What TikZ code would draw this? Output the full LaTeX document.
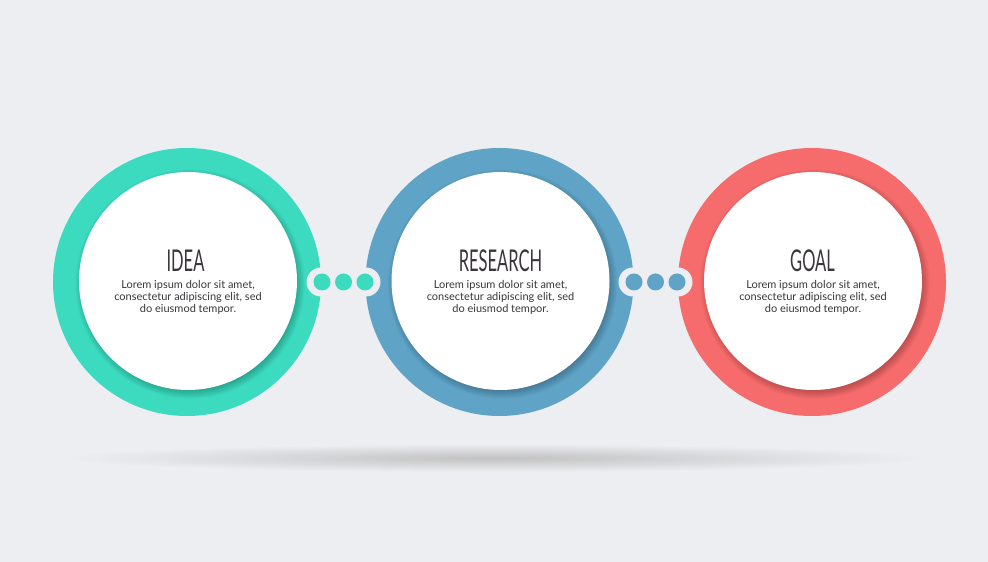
\documentclass[tikz,border=0pt]{standalone}
\usepackage{fontspec}
\setmainfont{Lato}
\usetikzlibrary{shapes.misc}
\definecolor{bg}{RGB}{237,238,242}
\definecolor{ideacol}{RGB}{60,219,192}
\definecolor{rescol}{RGB}{95,163,199}
\definecolor{goalcol}{RGB}{246,107,107}
\definecolor{ink}{RGB}{58,54,60}
\tikzset{
  ring/.style={circle, minimum size=268pt, inner sep=0pt, draw=none},
  disc/.style={circle, minimum size=218pt, inner sep=0pt, fill=white},
  softshade/.style={black, fill opacity=0.022},
  pill/.style={rounded rectangle, fill=bg, minimum width=74pt, minimum height=29pt, inner sep=0pt},
  dot/.style={circle, minimum size=17pt, inner sep=0pt},
  heading/.style={font=\fontsize{30}{30}\selectfont, text=ink, xscale=0.55, inner sep=0pt},
  body/.style={font=\fontsize{11}{12}\selectfont, text=ink, align=center, inner sep=0pt}
}
\begin{document}
\begin{tikzpicture}[x=1pt,y=1pt]
  % background
  \fill[bg] (0,0) rectangle (988,562);
  \useasboundingbox (0,0) rectangle (988,562);
  % floor shadow
  \begin{scope}
    \clip (494,104) ellipse (430 and 14);
    \shade[inner color=black!24, outer color=bg] (494,104) ellipse (430 and 14);
  \end{scope}
  % centres of the three steps
  \coordinate (o1) at (188,281);
  \coordinate (o2) at (500.5,281);
  \coordinate (o3) at (813,281);
  % rings
  \node[ring, fill=ideacol] (r1) at (187,280) {};
  \node[ring, fill=rescol]  (r2) at (499.5,280) {};
  \node[ring, fill=goalcol] (r3) at (812,280) {};
  % soft shadows cast by the white discs onto the rings
  \foreach \o in {o1,o2,o3}{
    \foreach \k in {0,...,13}{
      \fill[softshade] ([shift={(2,-3)}]\o) circle ({103+\k*0.9});
    }
  }
  % white discs
  \node[disc] (c1) at (o1) {};
  \node[disc] (c2) at (o2) {};
  \node[disc] (c3) at (o3) {};
  % texts
  \node[heading] (t1) at (185.5,301) {IDEA};
  \node[heading] (t2) at (500.5,301) {RESEARCH};
  \node[heading] (t3) at (812.5,301) {GOAL};
  \node[body] (b1) at (188,265) {Lorem ipsum dolor sit amet,\\consectetur adipiscing elit, sed\\do eiusmod tempor.};
  \node[body] (b2) at (500.5,265) {Lorem ipsum dolor sit amet,\\consectetur adipiscing elit, sed\\do eiusmod tempor.};
  \node[body] (b3) at (813,265) {Lorem ipsum dolor sit amet,\\consectetur adipiscing elit, sed\\do eiusmod tempor.};
  % connectors: three dots in a cut-out pill
  \node[pill] (p1) at (343.5,280) {};
  \node[dot, fill=ideacol] (d11) at (322,280) {};
  \node[dot, fill=ideacol] (d12) at (343.5,280) {};
  \node[dot, fill=ideacol] (d13) at (365,280) {};
  \node[pill] (p2) at (655.5,280) {};
  \node[dot, fill=rescol] (d21) at (634,280) {};
  \node[dot, fill=rescol] (d22) at (655.5,280) {};
  \node[dot, fill=rescol] (d23) at (677,280) {};
\end{tikzpicture}
\end{document}
